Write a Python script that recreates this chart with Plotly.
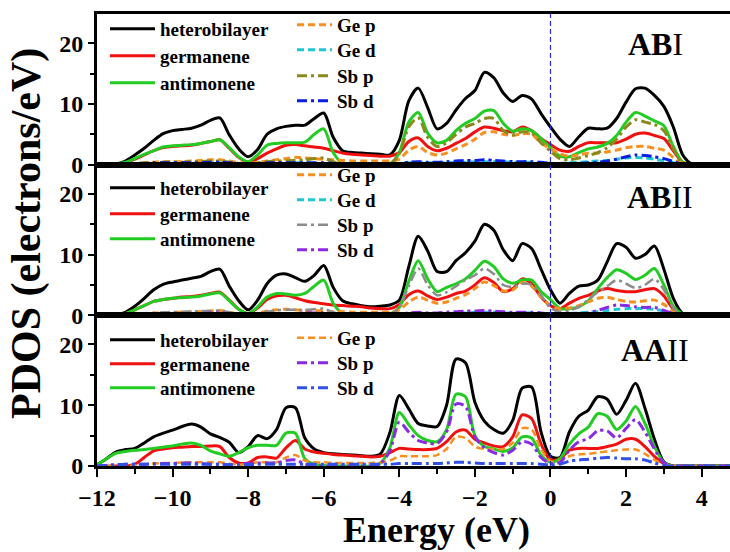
import plotly.graph_objects as go
from plotly.subplots import make_subplots

energy = [-12, -11.75, -11.5, -11.25, -11, -10.75, -10.5, -10.25,
          -10, -9.75, -9.5, -9.25, -9, -8.75, -8.5, -8.25,
          -8, -7.75, -7.5, -7.25, -7, -6.75, -6.5, -6.25,
          -6, -5.75, -5.5, -5.25, -5, -4.75, -4.5, -4.25,
          -4, -3.75, -3.5, -3.25, -3, -2.75, -2.5, -2.25,
          -2, -1.75, -1.5, -1.25, -1, -0.75, -0.5, -0.25,
          0, 0.25, 0.5, 0.75, 1, 1.25, 1.5, 1.75,
          2, 2.25, 2.5, 2.75, 3, 3.25, 3.5, 3.75,
          4, 4.25, 4.5, 4.75]

# ---------------- AB I ----------------
ab1_hetero = [0, 0, 0.1, 0.6, 1.6, 2.7, 4.0, 5.1,
              5.6, 5.8, 6.0, 6.5, 7.3, 7.7, 4.9, 2.6,
              1.3, 2.5, 5.0, 5.9, 6.3, 6.5, 6.5, 7.6,
              8.5, 4.5, 2.3, 2.0, 1.9, 1.8, 1.7, 1.6,
              4.0, 10.5, 12.6, 9.4, 5.9, 6.8, 9.0, 10.9,
              12.2, 15.2, 14.3, 11.8, 10.4, 11.4, 10.8, 8.4,
              6.2, 4.2, 3.0, 4.6, 6.0, 5.9, 6.0, 7.6,
              10.3, 12.5, 12.6, 11.4, 9.6, 6.2, 1.6, 0.1,
              0, 0, 0, 0]
ab1_germ = [0, 0, 0, 0.3, 0.9, 1.6, 2.3, 2.8,
            3.0, 3.1, 3.2, 3.5, 3.8, 4.1, 2.7, 1.2,
            0.4, 1.0, 1.9, 2.6, 3.2, 3.3, 3.1, 2.9,
            2.7, 2.3, 1.9, 1.7, 1.6, 1.5, 1.4, 1.4,
            2.0, 3.8, 4.4, 3.0, 2.3, 2.7, 3.5, 4.3,
            5.4, 6.2, 6.0, 5.6, 5.4, 6.2, 5.6, 4.3,
            3.3, 2.4, 2.2, 3.0, 3.6, 3.6, 3.6, 3.6,
            4.2, 5.0, 5.2, 4.8, 4.3, 2.3, 0.4, 0,
            0, 0, 0, 0]
ab1_anti = [0, 0, 0.1, 0.4, 1.0, 1.7, 2.3, 2.9,
            3.1, 3.2, 3.3, 3.5, 3.8, 4.1, 2.8, 1.3,
            0.5, 1.6, 3.2, 3.5, 3.6, 3.6, 3.7, 5.0,
            5.9, 2.0, 0.2, 0, 0, 0, 0, 0.1,
            2.0, 7.0, 8.6, 5.2, 3.6, 4.0, 5.6, 6.8,
            7.6, 8.8, 8.9, 6.8, 5.5, 5.9, 5.6, 4.3,
            2.8, 1.4, 1.3, 2.0, 2.6, 2.9, 3.5, 4.8,
            7.0, 8.6, 8.0, 7.2, 6.4, 3.0, 0.4, 0,
            0, 0, 0, 0]
ab1_gep = [0, 0, 0, 0.1, 0.2, 0.3, 0.4, 0.5,
           0.5, 0.5, 0.6, 0.7, 0.8, 0.8, 0.6, 0.3,
           0.2, 0.4, 0.6, 0.8, 1.0, 1.2, 1.1, 1.0,
           0.9, 0.8, 0.7, 0.6, 0.6, 0.6, 0.6, 0.6,
           0.9, 2.4, 3.0, 2.0, 1.6, 1.9, 2.6, 3.3,
           4.2, 5.3, 5.4, 5.0, 4.8, 5.1, 5.0, 3.6,
           2.6, 1.8, 1.4, 1.6, 1.9, 1.9, 2.1, 2.4,
           2.8, 3.0, 3.0, 2.7, 2.4, 1.2, 0.2, 0,
           0, 0, 0, 0]
ab1_ged = [0, 0, 0, 0, 0.1, 0.1, 0.1, 0.2,
           0.2, 0.2, 0.2, 0.2, 0.3, 0.3, 0.2, 0.1,
           0.1, 0.1, 0.2, 0.2, 0.2, 0.3, 0.3, 0.2,
           0.2, 0.2, 0.1, 0.1, 0.1, 0.1, 0.1, 0.1,
           0.2, 0.3, 0.4, 0.3, 0.3, 0.3, 0.4, 0.4,
           0.5, 0.5, 0.5, 0.5, 0.4, 0.4, 0.4, 0.3,
           0.2, 0.2, 0.3, 0.4, 0.5, 0.6, 0.7, 0.9,
           1.1, 1.2, 1.1, 0.9, 0.6, 0.3, 0.1, 0,
           0, 0, 0, 0]
ab1_sbp = [0, 0, 0, 0.1, 0.2, 0.3, 0.3, 0.4,
           0.4, 0.4, 0.5, 0.5, 0.6, 0.6, 0.4, 0.2,
           0.1, 0.3, 0.5, 0.6, 0.6, 0.7, 0.8, 1.0,
           1.1, 0.5, 0.1, 0, 0, 0, 0, 0.1,
           1.8, 6.2, 7.7, 4.5, 3.0, 3.6, 5.0, 6.2,
           6.8, 7.6, 7.6, 5.6, 4.9, 5.4, 5.2, 3.6,
           2.2, 1.0, 0.8, 1.1, 1.5, 2.0, 2.8, 4.2,
           6.2, 7.4, 7.0, 6.6, 5.6, 2.6, 0.3, 0,
           0, 0, 0, 0]
ab1_sbd = [0, 0, 0, 0.1, 0.2, 0.2, 0.3, 0.3,
           0.3, 0.3, 0.3, 0.3, 0.4, 0.4, 0.3, 0.2,
           0.1, 0.2, 0.3, 0.3, 0.3, 0.3, 0.3, 0.3,
           0.3, 0.2, 0.1, 0, 0, 0, 0, 0,
           0.2, 0.4, 0.5, 0.4, 0.4, 0.5, 0.6, 0.7,
           0.7, 0.8, 0.7, 0.6, 0.5, 0.5, 0.5, 0.4,
           0.2, 0.1, 0.1, 0.2, 0.3, 0.4, 0.6, 0.9,
           1.3, 1.6, 1.5, 1.3, 1.0, 0.5, 0.1, 0,
           0, 0, 0, 0]

# ---------------- AB II ----------------
ab2_hetero = [0, 0, 0.1, 0.5, 1.5, 2.8, 4.2, 5.1,
              5.5, 5.8, 6.1, 6.4, 7.2, 7.6, 4.8, 2.4,
              0.9, 2.5, 5.2, 6.6, 6.8, 6.2, 5.6, 6.6,
              8.2, 4.6, 2.4, 1.9, 1.6, 1.4, 1.5, 1.7,
              2.5, 8.0, 13.0, 10.6, 7.2, 7.2, 9.0, 10.3,
              12.2, 15.0, 14.0, 10.8, 9.0, 11.8, 11.0, 7.6,
              4.2, 2.0, 3.6, 4.8, 5.0, 5.8, 8.8, 11.8,
              11.2, 9.4, 10.0, 11.4, 7.6, 2.8, 0.3, 0,
              0, 0, 0, 0]
ab2_germ = [0, 0, 0, 0.3, 0.9, 1.6, 2.3, 2.6,
            2.8, 3.0, 3.1, 3.3, 3.6, 3.8, 2.5, 1.0,
            0.3, 1.2, 2.6, 3.2, 3.3, 2.9, 2.4, 2.1,
            1.9, 1.7, 1.6, 1.5, 1.4, 1.2, 1.1, 1.1,
            1.8, 3.4, 4.0, 3.2, 2.6, 3.0, 3.6, 4.0,
            5.0, 6.2, 5.4, 3.9, 4.4, 6.0, 5.2, 3.0,
            1.6, 1.1, 2.0, 2.8, 3.3, 4.0, 4.4, 4.1,
            3.9, 3.9, 4.2, 4.4, 3.2, 1.0, 0, 0,
            0, 0, 0, 0]
ab2_anti = [0, 0, 0.1, 0.3, 0.9, 1.6, 2.3, 2.6,
            2.8, 2.9, 3.0, 3.2, 3.5, 3.7, 2.4, 1.0,
            0.3, 1.4, 3.0, 3.6, 3.5, 3.3, 3.6, 4.8,
            5.8, 2.0, 0.3, 0, 0, 0, 0, 0.2,
            1.3, 5.6, 9.0, 6.0, 3.9, 4.6, 5.2, 6.0,
            7.4, 8.9, 8.0, 6.0, 5.3, 5.8, 5.8, 3.9,
            2.6, 1.1, 1.1, 1.4, 2.4, 4.4, 6.2, 7.5,
            6.9, 5.9, 6.6, 7.7, 5.0, 1.5, 0.2, 0,
            0, 0, 0, 0]
ab2_gep = [0, 0, 0, 0.1, 0.2, 0.3, 0.4, 0.4,
           0.5, 0.5, 0.6, 0.6, 0.7, 0.8, 0.5, 0.2,
           0.1, 0.3, 0.7, 0.9, 1.0, 0.9, 0.8, 0.8,
           0.7, 0.6, 0.6, 0.5, 0.5, 0.5, 0.5, 0.5,
           0.9, 2.2, 3.0, 2.5, 2.0, 2.2, 2.8, 3.4,
           4.4, 5.5, 4.9, 4.0, 4.2, 5.4, 4.8, 3.0,
           1.6, 1.1, 1.2, 1.6, 2.2, 2.8, 3.0, 2.6,
           2.3, 2.2, 2.4, 2.5, 1.8, 0.6, 0, 0,
           0, 0, 0, 0]
ab2_ged = [0, 0, 0, 0, 0.1, 0.1, 0.1, 0.2,
           0.2, 0.2, 0.2, 0.2, 0.3, 0.3, 0.2, 0.1,
           0.1, 0.1, 0.2, 0.2, 0.2, 0.3, 0.3, 0.2,
           0.2, 0.2, 0.1, 0.1, 0.1, 0.1, 0.1, 0.1,
           0.2, 0.3, 0.4, 0.3, 0.3, 0.3, 0.4, 0.4,
           0.5, 0.5, 0.5, 0.4, 0.4, 0.4, 0.4, 0.3,
           0.2, 0.2, 0.3, 0.4, 0.5, 0.6, 0.8, 1.0,
           1.1, 1.1, 1.1, 1.0, 0.7, 0.3, 0.1, 0,
           0, 0, 0, 0]
ab2_sbp = [0, 0, 0, 0.1, 0.2, 0.3, 0.4, 0.5,
           0.5, 0.6, 0.6, 0.7, 0.7, 0.8, 0.5, 0.2,
           0.1, 0.3, 0.6, 0.8, 0.9, 0.9, 0.9, 1.0,
           1.1, 0.5, 0.1, 0, 0, 0, 0, 0.1,
           1.3, 4.8, 7.7, 5.0, 3.3, 3.8, 4.8, 5.8,
           6.6, 7.7, 6.8, 5.0, 4.7, 5.2, 5.0, 3.3,
           1.2, 0.6, 0.8, 1.4, 2.6, 3.8, 4.8, 5.8,
           5.2, 4.5, 5.0, 6.0, 4.2, 1.2, 0.1, 0,
           0, 0, 0, 0]
ab2_sbd = [0, 0, 0, 0.1, 0.2, 0.2, 0.3, 0.3,
           0.3, 0.3, 0.3, 0.3, 0.4, 0.4, 0.3, 0.2,
           0.1, 0.2, 0.3, 0.3, 0.3, 0.3, 0.4, 0.4,
           0.4, 0.2, 0.1, 0, 0, 0, 0, 0,
           0.2, 0.4, 0.5, 0.4, 0.4, 0.5, 0.6, 0.7,
           0.7, 0.8, 0.7, 0.6, 0.5, 0.5, 0.5, 0.4,
           0.2, 0.1, 0.1, 0.2, 0.4, 0.8, 1.3, 1.7,
           1.6, 1.4, 1.3, 1.3, 0.8, 0.3, 0, 0,
           0, 0, 0, 0]

# ---------------- AA II ----------------
aa2_hetero = [0.2, 1.2, 2.3, 2.7, 2.9, 3.8, 4.8, 5.4,
              5.9, 6.5, 6.9, 6.4, 5.3, 4.7, 3.9, 2.2,
              3.2, 5.0, 4.5, 6.0, 9.6, 9.6, 4.6, 2.8,
              2.2, 2.0, 1.9, 1.8, 1.7, 1.6, 2.0, 5.5,
              11.6, 9.4, 7.0, 6.6, 6.5, 10.0, 17.6, 17.0,
              10.5, 7.4, 6.0, 5.4, 7.5, 12.8, 13.0, 5.6,
              1.6, 1.4, 5.6, 8.2, 9.2, 11.4, 11.0, 8.5,
              10.8, 13.6, 9.5, 4.4, 0.7, 0, 0, 0,
              0, 0, 0, 0]
aa2_germ = [0, 0, 0, 0, 0.3, 1.4, 2.5, 2.8,
            3.0, 3.1, 3.2, 3.2, 3.3, 3.2, 1.4, 0.5,
            0.5, 1.4, 1.5, 1.3, 3.0, 4.2, 2.8, 2.3,
            2.1, 1.9, 1.8, 1.7, 1.6, 1.5, 1.6, 2.2,
            2.9, 2.8, 2.7, 2.7, 2.9, 4.0, 5.6, 5.9,
            4.4, 3.8, 3.3, 3.2, 4.8, 8.4, 7.8, 3.6,
            1.0, 1.2, 2.6, 2.9, 2.9, 2.9, 3.2, 3.6,
            4.4, 4.4, 3.2, 1.6, 0.4, 0, 0, 0,
            0, 0, 0, 0]
aa2_anti = [0.2, 1.2, 2.1, 2.4, 2.6, 2.7, 2.9, 3.1,
            3.3, 3.6, 3.8, 3.4, 2.5, 2.0, 1.6, 2.2,
            3.0, 3.4, 3.4, 3.4, 5.4, 5.4, 1.2, 0.3,
            0.1, 0, 0, 0, 0, 0, 0.5, 3.0,
            8.8, 6.8, 5.0, 4.2, 4.0, 6.0, 11.8, 11.4,
            5.0, 3.2, 2.8, 2.4, 3.0, 4.8, 4.6, 1.8,
            0.6, 1.2, 3.6, 5.3, 6.4, 8.6, 8.2, 6.0,
            7.4, 9.8, 7.0, 3.2, 0.6, 0, 0, 0,
            0, 0, 0, 0]
aa2_gep = [0, 0, 0, 0, 0.1, 0.3, 0.4, 0.5,
           0.5, 0.6, 0.6, 0.6, 0.6, 0.6, 0.4, 0.2,
           0.3, 0.6, 0.6, 0.6, 1.4, 1.8, 0.9, 0.6,
           0.6, 0.5, 0.5, 0.5, 0.5, 0.5, 0.6, 0.9,
           1.6, 1.6, 1.6, 1.6, 1.8, 2.8, 4.8, 4.6,
           3.2, 2.8, 2.8, 2.8, 3.8, 6.2, 6.0, 2.8,
           0.8, 0.8, 1.6, 1.9, 2.0, 2.2, 2.4, 2.6,
           2.7, 2.7, 2.0, 1.0, 0.3, 0, 0, 0,
           0, 0, 0, 0]
aa2_sbp = [0, 0.1, 0.2, 0.3, 0.3, 0.3, 0.4, 0.4,
           0.4, 0.5, 0.5, 0.4, 0.3, 0.3, 0.2, 0.3,
           0.4, 0.5, 0.5, 0.5, 0.9, 1.0, 0.3, 0.1,
           0, 0, 0, 0, 0, 0, 0.4, 2.5,
           7.2, 5.6, 4.2, 3.8, 3.7, 5.6, 10.2, 9.8,
           4.8, 3.0, 2.2, 1.8, 2.6, 4.0, 3.6, 1.4,
           0.4, 0.6, 2.6, 4.0, 4.5, 5.8, 5.8, 4.6,
           6.2, 7.6, 5.6, 2.8, 0.5, 0, 0, 0,
           0, 0, 0, 0]
aa2_sbd = [0, 0.1, 0.2, 0.3, 0.3, 0.3, 0.3, 0.3,
           0.3, 0.3, 0.3, 0.3, 0.3, 0.3, 0.2, 0.2,
           0.2, 0.3, 0.3, 0.3, 0.3, 0.3, 0.3, 0.3,
           0.3, 0.3, 0.3, 0.3, 0.3, 0.3, 0.3, 0.3,
           0.4, 0.4, 0.4, 0.4, 0.4, 0.5, 0.6, 0.6,
           0.5, 0.4, 0.4, 0.4, 0.4, 0.4, 0.4, 0.3,
           0.2, 0.3, 0.8, 1.0, 1.1, 1.3, 1.4, 1.3,
           1.2, 1.2, 1.0, 0.5, 0.1, 0, 0, 0,
           0, 0, 0, 0]

panel_labels = ["<b>AB</b>I", "<b>AB</b>II", "<b>AA</b>II"]
y_ticks = [0, 10, 20]

FONT = "Liberation Serif"

# (name, values, color, width, dash, legend column)
panels = [
    [("heterobilayer", ab1_hetero, "#000000", 3, "solid", 0),
     ("germanene", ab1_germ, "#f01010", 3, "solid", 0),
     ("antimonene", ab1_anti, "#22cc22", 3, "solid", 0),
     ("Ge p", ab1_gep, "#f7901e", 3, "7px,4px", 1),
     ("Ge d", ab1_ged, "#1ec8d2", 3, "7px,4px", 1),
     ("Sb p", ab1_sbp, "#8a8a1a", 3, "10px,4px,3px,4px", 1),
     ("Sb d", ab1_sbd, "#0a1ee0", 3, "10px,4px,3px,4px", 1)],
    [("heterobilayer", ab2_hetero, "#000000", 3, "solid", 0),
     ("germanene", ab2_germ, "#f01010", 3, "solid", 0),
     ("antimonene", ab2_anti, "#22cc22", 3, "solid", 0),
     ("Ge p", ab2_gep, "#f7901e", 3, "7px,4px", 1),
     ("Ge d", ab2_ged, "#1ec8d2", 3, "7px,4px", 1),
     ("Sb p", ab2_sbp, "#8c8c8c", 2.5, "10px,4px,3px,4px", 1),
     ("Sb d", ab2_sbd, "#8a2be2", 3, "10px,4px,3px,4px", 1)],
    [("heterobilayer", aa2_hetero, "#000000", 3, "solid", 0),
     ("germanene", aa2_germ, "#f01010", 3, "solid", 0),
     ("antimonene", aa2_anti, "#22cc22", 3, "solid", 0),
     ("Ge p", aa2_gep, "#f7901e", 2.5, "7px,4px", 1),
     ("Sb p", aa2_sbp, "#8a2be2", 3, "10px,4px,3px,4px", 1),
     ("Sb d", aa2_sbd, "#3050e8", 3, "10px,4px,3px,4px", 1)],
]

# legend row centres (pixel y) for each panel and column
legend_rows = [
    ([29, 56, 83], [25, 50, 76, 101]),
    ([188, 214, 239], [175, 200, 225, 250]),
    ([340, 364, 388], [338, 363, 388]),
]
H = 452.0
def py(p):
    return (466 - p) / H
def px(p):
    return (p - 97) / 633.0

col_x = [105, 292]
col_w = [45, 35]

fig = make_subplots(rows=3, cols=1, shared_xaxes=True, vertical_spacing=0)

leg_font = dict(family=FONT, size=19, color="black", weight="bold")
legend_layouts = {}
n = 0
for r, series in enumerate(panels, start=1):
    counters = [0, 0]
    for name, vals, color, w, dash, col in series:
        n += 1
        lid = "legend" if n == 1 else "legend%d" % n
        yc = legend_rows[r - 1][col][counters[col]]
        counters[col] += 1
        legend_layouts[lid] = dict(x=px(col_x[col]), y=py(yc), xanchor="left", yanchor="middle",
                                   bgcolor="rgba(0,0,0,0)", font=leg_font, itemwidth=col_w[col],
                                   itemclick=False, itemdoubleclick=False)
        fig.add_trace(go.Scatter(
            x=energy, y=vals, mode="lines", name=name,
            line=dict(color=color, width=w, dash=dash, shape="spline", smoothing=0.8),
            legend=lid, showlegend=True), row=r, col=1)

tickfont = dict(family=FONT, size=24, color="black", weight="bold")
for r in range(1, 4):
    fig.update_yaxes(range=[0, 24.8], tickvals=y_ticks, ticks="outside", ticklen=6, tickwidth=2,
                     minor=dict(dtick=5, ticks="outside", ticklen=4, tickwidth=2, tickcolor="black"),
                     showline=True, linewidth=3, linecolor="black", tickcolor="black",
                     showgrid=False, zeroline=False, tickfont=tickfont, row=r, col=1)
    fig.update_xaxes(range=[-12, 4.75], showline=True, linewidth=3, linecolor="black",
                     mirror=True, showgrid=False, zeroline=False, row=r, col=1,
                     ticks="outside" if r == 3 else "", dtick=2, tick0=0,
                     ticklen=8, tickwidth=2, tickcolor="black", tickfont=tickfont,
                     minor=dict(dtick=1, ticks="outside" if r == 3 else "", ticklen=5,
                                tickwidth=2, tickcolor="black"))

# Fermi level
fig.add_shape(type="line", xref="x", yref="paper", x0=0, x1=0, y0=0, y1=1,
              line=dict(color="#2a2acc", width=1.2, dash="5px,3px"))

fig.update_layout(**legend_layouts)

label_pos = [(655, 44), (660, 197), (655, 350)]
for txt, (lx, ly) in zip(panel_labels, label_pos):
    fig.add_annotation(text=txt, x=px(lx), y=py(ly), xref="paper", yref="paper",
                       showarrow=False, xanchor="center", yanchor="middle",
                       font=dict(family=FONT, size=32, color="black"))

fig.add_annotation(text="<b>PDOS (electrons/eV)</b>", x=px(26), y=py(234), xref="paper", yref="paper",
                   textangle=-90, showarrow=False, xanchor="center", yanchor="middle",
                   font=dict(family=FONT, size=42, color="black"))
fig.add_annotation(text="<b>Energy (eV)</b>", x=px(436), y=py(530), xref="paper", yref="paper",
                   showarrow=False, xanchor="center", yanchor="middle",
                   font=dict(family=FONT, size=36, color="black"))

fig.update_layout(width=730, height=552, margin=dict(l=97, r=0, t=14, b=86),
                  paper_bgcolor="white", plot_bgcolor="white")

fig.write_html("out.html")
